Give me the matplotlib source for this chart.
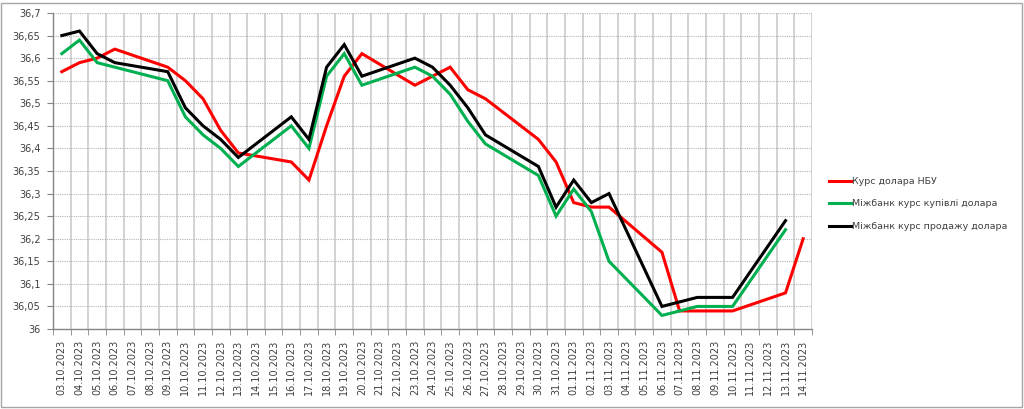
import numpy as np
import pandas as pd
import matplotlib
matplotlib.use("Agg")
import matplotlib.pyplot as plt
from matplotlib.patches import Rectangle
from matplotlib.ticker import MultipleLocator, FuncFormatter

# Category axis: every calendar day, weekends have no quotes
dates = pd.date_range("2023-10-03", "2023-11-14", freq="D").strftime("%d.%m.%Y").tolist()

nan = np.nan
nbu = [36.57, 36.59, 36.60, 36.62, nan, nan, 36.58, 36.55, 36.51, 36.44, 36.39, nan, nan,
       36.37, 36.33, 36.45, 36.56, 36.61, nan, nan, 36.54, 36.56, 36.58, 36.53, 36.51, nan, nan,
       36.42, 36.37, 36.28, 36.27, 36.27, nan, nan, 36.17, 36.04, 36.04, 36.04, 36.04, nan, nan,
       36.08, 36.20]
buy = [36.61, 36.64, 36.59, 36.58, nan, nan, 36.55, 36.47, 36.43, 36.40, 36.36, nan, nan,
       36.45, 36.40, 36.56, 36.61, 36.54, nan, nan, 36.58, 36.56, 36.52, 36.46, 36.41, nan, nan,
       36.34, 36.25, 36.31, 36.26, 36.15, nan, nan, 36.03, 36.04, 36.05, 36.05, 36.05, nan, nan,
       36.22, nan]
sell = [36.65, 36.66, 36.61, 36.59, nan, nan, 36.57, 36.49, 36.45, 36.42, 36.38, nan, nan,
        36.47, 36.42, 36.58, 36.63, 36.56, nan, nan, 36.60, 36.58, 36.54, 36.49, 36.43, nan, nan,
        36.36, 36.27, 36.33, 36.28, 36.30, nan, nan, 36.05, 36.06, 36.07, 36.07, 36.07, nan, nan,
        36.24, nan]

series = [
    ("Курс долара НБУ", nbu, "#FF0000"),
    ("Міжбанк курс купівлі долара", buy, "#00B050"),
    ("Міжбанк курс продажу долара", sell, "#000000"),
]

W, H = 1024, 409
fig = plt.figure(figsize=(W / 100, H / 100), dpi=100)
fig.patches.append(Rectangle((1 / W, 2 / H), 1 - 3 / W, 1 - 5 / H, transform=fig.transFigure,
                             fill=False, edgecolor="#a6a6a6", linewidth=1))

ax = fig.add_axes([53 / W, (H - 329) / H, (812 - 53) / W, (329 - 13) / H])

x = np.arange(len(dates))
for label, vals, color in series:
    v = np.array(vals, dtype=float)
    ok = ~np.isnan(v)
    ax.plot(x[ok], v[ok], color=color, linewidth=2.2, label=label, solid_joinstyle="miter")

ax.set_xlim(-0.5, len(dates) - 0.5)
ax.set_ylim(36, 36.7)

# x: labels at centres, gridlines/ticks at category boundaries
ax.set_xticks(x)
ax.set_xticklabels(dates, rotation=90, fontsize=7, color="#404040")
ax.set_xticks(np.arange(-0.5, len(dates), 1), minor=True)
ax.tick_params(axis="x", which="major", length=0, pad=8)
ax.tick_params(axis="x", which="minor", length=4, color="#868686")
ax.grid(True, axis="x", which="minor", color="#d0d0d0", linewidth=1.3)

ax.yaxis.set_major_locator(MultipleLocator(0.05))
ax.yaxis.set_major_formatter(FuncFormatter(lambda v, p: f"{v:.2f}".rstrip("0").rstrip(".").replace(".", ",")))
ax.tick_params(axis="y", length=4, color="#868686", labelsize=7, labelcolor="#404040", pad=5)
ax.grid(True, axis="y", which="major", color="#b4b4b4", linestyle=(0, (1, 1)), linewidth=0.8)
ax.set_axisbelow(True)

for s in ["top", "right"]:
    ax.spines[s].set_visible(False)
for s in ["left", "bottom"]:
    ax.spines[s].set_color("#868686")
    ax.spines[s].set_linewidth(1)

leg = fig.legend(loc="center left", bbox_to_anchor=(829 / W, 1 - 204 / H), frameon=False,
                 fontsize=6.8, handlelength=2.3, handletextpad=0.1, labelspacing=1.45,
                 borderpad=0, borderaxespad=0)
for t in leg.get_texts():
    t.set_color("#404040")
for l in leg.get_lines():
    l.set_linewidth(2.2)

fig.savefig("out.png", dpi=100)
